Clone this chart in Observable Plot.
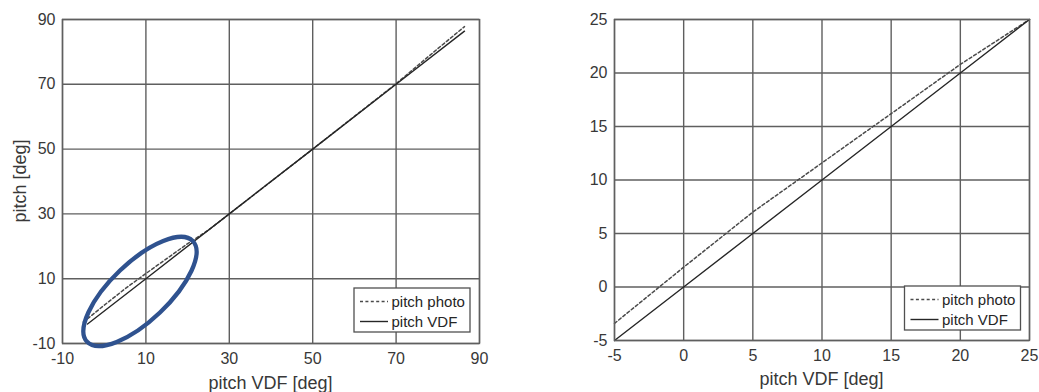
<!DOCTYPE html>
<html><head><meta charset="utf-8">
<script src="https://cdn.jsdelivr.net/npm/d3@7"></script>
<script src="https://cdn.jsdelivr.net/npm/@observablehq/plot@0.6"></script>
<style>
html,body{margin:0;padding:0;background:#fff;}
#wrap{position:relative;width:1039px;height:392px;overflow:hidden;display:flex;}
#wrap svg{display:block;flex:none;}
</style></head><body><div id="wrap"></div>
<script>
// ---- data ----
const legendLabels = ["pitch photo", "pitch VDF"];
const xLabel = "pitch VDF [deg]";
const yLabel = "pitch [deg]";

// left panel (full range)
const leftTicks = [-10, 10, 30, 50, 70, 90];
const leftVdfX = [-4, 10, 30, 50, 70, 86.4];
const leftVdfY = [-4, 10, 30, 50, 70, 86.4];
const leftPhotoX = [-5, 0, 5, 10, 15, 20, 25, 30, 50, 60, 70, 80, 86.4];
const leftPhotoY = [-3.4, 1.8, 6.9, 11.6, 16.2, 20.8, 25, 30, 50, 60.1, 70.2, 81, 87.8];

// right panel (zoom on -5..25)
const rightTicks = [-5, 0, 5, 10, 15, 20, 25];
const rightVdfX = [-5, 0, 5, 10, 15, 20, 25];
const rightVdfY = [-5, 0, 5, 10, 15, 20, 25];
const rightPhotoX = [-5, 0, 5, 10, 15, 20, 25];
const rightPhotoY = [-3.4, 1.85, 7.0, 11.6, 16.2, 20.8, 25];

// annotation ellipse centre (left panel, data units)
const ellipseCenter = [8.7, 5.9];

const toRows = (xs, ys) => xs.map((x, i) => ({x, y: ys[i]}));

const gridStroke = "#5f5f5f";
const textColor = "#383838";
const photoStroke = "#4a4a4a";
const vdfStroke = "#262626";
const font = "'Liberation Sans', Arial, Helvetica, sans-serif";

function panel(o) {
  const plot = Plot.plot({
    width: o.width, height: 392,
    marginLeft: o.ml, marginRight: o.mr, marginTop: o.mt, marginBottom: o.mb,
    style: {fontFamily: font, fontSize: "16px", color: textColor, background: "white"},
    x: {domain: [o.ticks[0], o.ticks[o.ticks.length - 1]], ticks: o.ticks, tickSize: 0, tickPadding: 9, tickFormat: d => String(d), label: null},
    y: {domain: [o.ticks[0], o.ticks[o.ticks.length - 1]], ticks: o.ticks, tickSize: 0, tickPadding: 7, tickFormat: d => String(d), label: null},
    marks: [
      Plot.ruleX(o.ticks, {stroke: gridStroke, strokeWidth: 1.4}),
      Plot.ruleY(o.ticks, {stroke: gridStroke, strokeWidth: 1.4}),
      Plot.line(o.photo, {x: "x", y: "y", stroke: photoStroke, strokeWidth: 1.5, strokeDasharray: "3,2.4"}),
      Plot.line(o.vdf, {x: "x", y: "y", stroke: vdfStroke, strokeWidth: 1.4}),
      Plot.frame({stroke: gridStroke, strokeWidth: 1.4})
    ]
  });
  const svg = d3.select(plot);
  const W = o.width, H = 392;
  const cx = o.ml + (W - o.ml - o.mr) / 2;
  const cy = o.mt + (H - o.mt - o.mb) / 2;
  svg.append("text").attr("x", cx).attr("y", o.xlBase)
    .attr("text-anchor", "middle").attr("font-size", 18).attr("fill", textColor)
    .attr("font-family", font).text(xLabel);
  svg.append("text").attr("transform", "rotate(-90)").attr("x", -cy).attr("y", o.ylBase)
    .attr("text-anchor", "middle").attr("font-size", 18).attr("fill", textColor)
    .attr("font-family", font).text(yLabel);
  // legend
  const g = svg.append("g").attr("transform", `translate(${o.lx},${o.ly})`);
  g.append("rect").attr("x", 0).attr("y", 0).attr("width", 116).attr("height", 44)
    .attr("fill", "white").attr("stroke", "#505050").attr("stroke-width", 1.3);
  const styles = [{stroke: photoStroke, dash: "3,2.4", w: 1.5}, {stroke: vdfStroke, dash: null, w: 1.4}];
  legendLabels.forEach((lab, i) => {
    const yy = 13.5 + i * 20;
    g.append("line").attr("x1", 6).attr("x2", 34).attr("y1", yy).attr("y2", yy)
      .attr("stroke", styles[i].stroke).attr("stroke-width", styles[i].w)
      .attr("stroke-dasharray", styles[i].dash);
    g.append("text").attr("x", 37.5).attr("y", yy).attr("dy", "0.35em")
      .attr("text-anchor", "start")
      .attr("font-size", 15).attr("fill", "#262626").attr("font-family", font).text(lab);
  });
  if (o.ellipse) {
    const xs = plot.scale("x"), ys = plot.scale("y");
    svg.append("ellipse")
      .attr("transform", `translate(${xs.apply(o.ellipse[0])},${ys.apply(o.ellipse[1])}) rotate(-43.6)`)
      .attr("rx", 73).attr("ry", 29).attr("fill", "none")
      .attr("stroke", "#2f528f").attr("stroke-width", 4.3);
  }
  return plot;
}

const wrap = document.getElementById("wrap");
wrap.appendChild(panel({
  width: 520, ml: 62, mr: 41, mt: 19, mb: 49, ticks: leftTicks,
  vdf: toRows(leftVdfX, leftVdfY), photo: toRows(leftPhotoX, leftPhotoY),
  xlBase: 389, ylBase: 26, lx: 354, ly: 288, ellipse: ellipseCenter
}));
wrap.appendChild(panel({
  width: 519, ml: 94, mr: 10, mt: 19, mb: 52, ticks: rightTicks,
  vdf: toRows(rightVdfX, rightVdfY), photo: toRows(rightPhotoX, rightPhotoY),
  xlBase: 385, ylBase: 585, lx: 384.5, ly: 286
}));
</script></body></html>
